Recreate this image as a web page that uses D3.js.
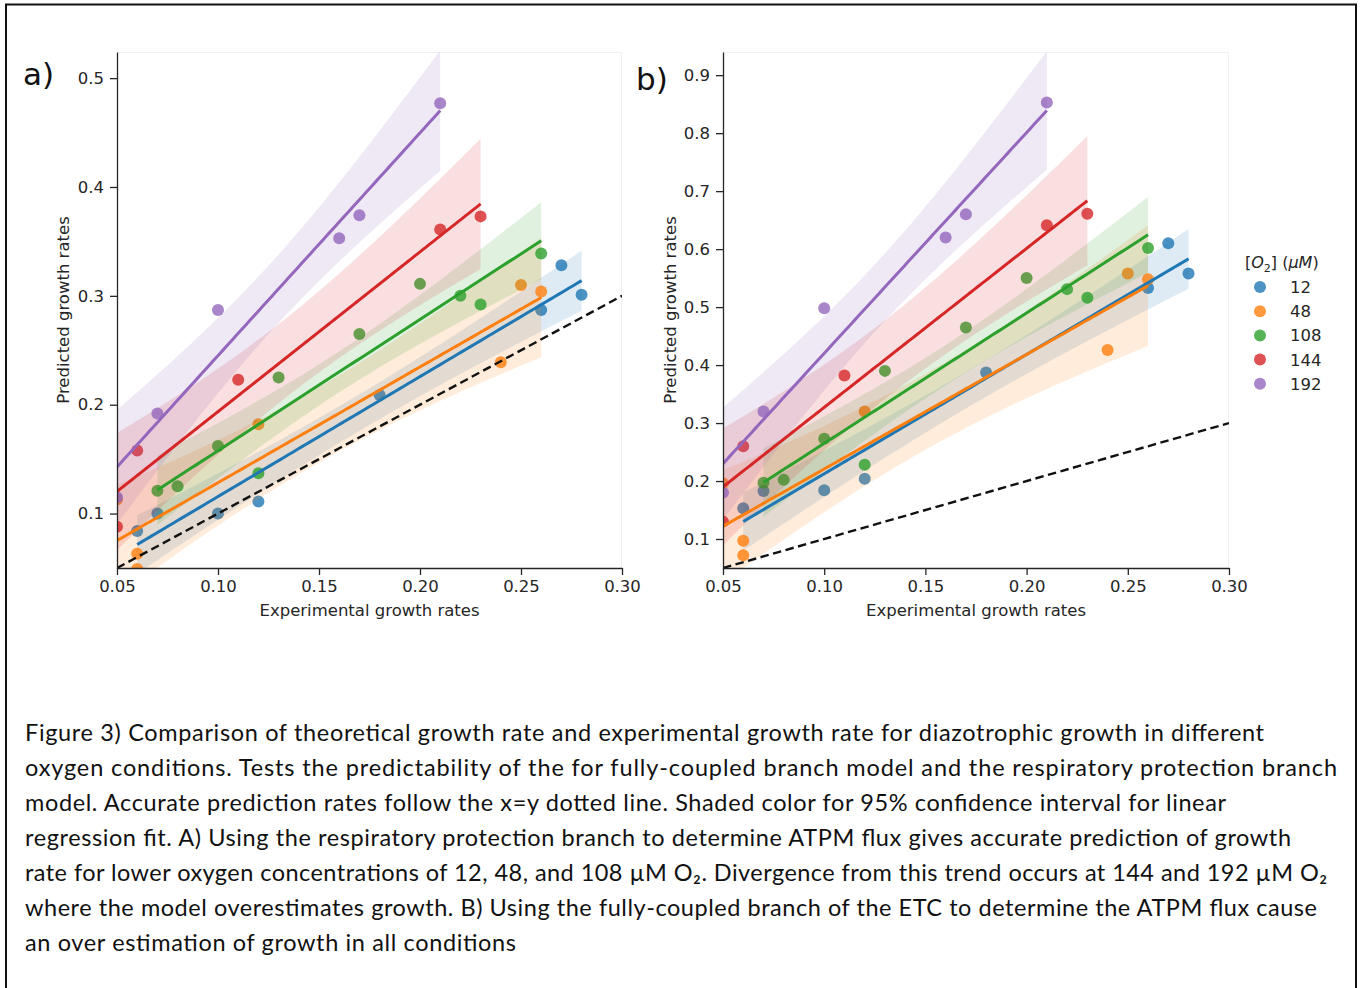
<!DOCTYPE html>
<html>
<head>
<meta charset="utf-8">
<script src="https://cdn.jsdelivr.net/npm/d3@7/dist/d3.min.js"></script>
<style>
  body { margin: 0; background: #fff; }
  svg { display: block; }
  .tick text { font-family: 'DejaVu Sans', sans-serif; font-size: 16.5px; fill: #262626; }
  .axis-label { font-family: 'DejaVu Sans', sans-serif; font-size: 16.5px; fill: #262626; }
  .caption { font-family: Lato, 'Open Sans', sans-serif; font-size: 23.5px; fill: #111; }
</style>
</head>
<body>
<svg id="fig" width="1361" height="988"></svg>
<script>
// DATA
const o2Levels = ['12', '48', '108', '144', '192']
const colors = ['#1f77b4', '#ff7f0e', '#2ca02c', '#d62728', '#9467bd']
const xTicks = [0.05, 0.10, 0.15, 0.20, 0.25, 0.30]
const yTicksA = [0.1, 0.2, 0.3, 0.4, 0.5]
const yTicksB = [0.1, 0.2, 0.3, 0.4, 0.5, 0.6, 0.7, 0.8, 0.9]
const identityLine = [0.05, 0.30]

const exp12 = [0.06, 0.07, 0.10, 0.12, 0.18, 0.26, 0.27, 0.28]
const predA12 = [0.084, 0.100, 0.100, 0.111, 0.209, 0.287, 0.328, 0.301]
const predB12 = [0.153, 0.183, 0.184, 0.204, 0.387, 0.533, 0.610, 0.558]

const exp48 = [0.05, 0.06, 0.06, 0.12, 0.24, 0.25, 0.26]
const predA48 = [0.113, 0.063, 0.049, 0.182, 0.239, 0.310, 0.304]
const predB48 = [0.196, 0.097, 0.072, 0.320, 0.426, 0.558, 0.548]

const exp108 = [0.07, 0.08, 0.10, 0.12, 0.13, 0.17, 0.20, 0.22, 0.23, 0.26]
const predA108 = [0.121, 0.125, 0.162, 0.137, 0.225, 0.265, 0.311, 0.300, 0.292, 0.339]
const predB108 = [0.197, 0.202, 0.273, 0.228, 0.390, 0.465, 0.550, 0.531, 0.516, 0.602]

const exp144 = [0.05, 0.06, 0.11, 0.21, 0.23]
const predA144 = [0.088, 0.158, 0.223, 0.361, 0.373]
const predB144 = [0.130, 0.260, 0.382, 0.641, 0.661]

const exp192 = [0.05, 0.07, 0.10, 0.16, 0.17, 0.21]
const predA192 = [0.115, 0.192, 0.287, 0.353, 0.374, 0.477]
const predB192 = [0.180, 0.320, 0.498, 0.620, 0.660, 0.853]

const captionLines = [
  'Figure 3) Comparison of theoretical growth rate and experimental growth rate for diazotrophic growth in different',
  'oxygen conditions. Tests the predictability of the for fully-coupled branch model and the respiratory protection branch',
  'model. Accurate prediction rates follow the x=y dotted line. Shaded color for 95% confidence interval for linear',
  'regression fit. A) Using the respiratory protection branch to determine ATPM flux gives accurate prediction of growth',
  'rate for lower oxygen concentrations of 12, 48, and 108 \u00b5M O\u2082. Divergence from this trend occurs at 144 and 192 \u00b5M O\u2082',
  'where the model overestimates growth. B) Using the fully-coupled branch of the ETC to determine the ATPM flux cause',
  'an over estimation of growth in all conditions'
]
const captionWidths = [1239, 1312, 1201, 1266, 1302, 1292, 491]

// t quantiles (97.5%) by degrees of freedom, for the 95% band
const t975 = { 3: 3.182, 4: 2.776, 5: 2.571, 6: 2.447, 7: 2.365, 8: 2.306 }

const exps = [exp12, exp48, exp108, exp144, exp192]
const panelA = [predA12, predA48, predA108, predA144, predA192]
const panelB = [predB12, predB48, predB108, predB144, predB192]

const svg = d3.select('#fig')

// frame round the figure
svg.append('rect')
  .attr('x', 6).attr('y', 4.5)
  .attr('width', 1350).attr('height', 1000)
  .attr('fill', 'none')
  .attr('stroke', '#111')
  .attr('stroke-width', 2)

function regression(xs, ys) {
  const n = xs.length
  const xbar = d3.mean(xs)
  const ybar = d3.mean(ys)
  const sxx = d3.sum(xs, x => (x - xbar) ** 2)
  const sxy = d3.sum(xs, (x, i) => (x - xbar) * (ys[i] - ybar))
  const slope = sxy / sxx
  const icept = ybar - slope * xbar
  const sse = d3.sum(xs, (x, i) => (ys[i] - icept - slope * x) ** 2)
  const s = Math.sqrt(sse / (n - 2))
  const t = t975[n - 2] || 2.0
  const [lo, hi] = d3.extent(xs)
  return d3.range(0, 101).map(k => {
    const x = lo + (hi - lo) * k / 100
    const y = icept + slope * x
    const se = s * Math.sqrt(1 / n + (x - xbar) ** 2 / sxx)
    return { x, y, y0: y - t * se, y1: y + t * se }
  })
}

function drawPanel(cfg) {
  const { left, top, width, height, yDomain, yTicks, preds, id, tag, tagX, tagY } = cfg
  const g = svg.append('g').attr('transform', `translate(${left} ${top})`)

  const x = d3.scaleLinear().domain([0.05, 0.30]).range([0, width])
  const y = d3.scaleLinear().domain(yDomain).range([height, 0])

  svg.append('defs').append('clipPath').attr('id', `clip-${id}`)
    .append('rect').attr('width', width).attr('height', height)

  // faint top / right edges
  g.append('path')
    .attr('d', `M0 0.5H${width - 0.5}V${height}`)
    .attr('fill', 'none')
    .attr('stroke', '#f1f1f1')

  const plot = g.append('g').attr('clip-path', `url(#clip-${id})`)

  const fits = preds.map((ys, i) => regression(exps[i], ys))

  // SCATTER + BANDS
  preds.forEach((ys, i) => {
    plot.append('g')
      .selectAll('circle')
      .data(ys.map((v, j) => [exps[i][j], v]))
      .enter().append('circle')
      .attr('cx', d => x(d[0]))
      .attr('cy', d => y(d[1]))
      .attr('r', 6)
      .attr('fill', colors[i])
      .attr('fill-opacity', 0.8)

    plot.append('path')
      .datum(fits[i])
      .attr('fill', colors[i])
      .attr('fill-opacity', 0.15)
      .attr('d', d3.area()
        .x(d => x(d.x))
        .y0(d => y(d.y0))
        .y1(d => y(d.y1)))
  })

  // FIT LINES
  fits.forEach((f, i) => {
    plot.append('path')
      .datum(f)
      .attr('fill', 'none')
      .attr('stroke', colors[i])
      .attr('stroke-width', 3)
      .attr('d', d3.line().x(d => x(d.x)).y(d => y(d.y)))
  })

  // x = y
  plot.append('path')
    .datum(identityLine)
    .attr('fill', 'none')
    .attr('stroke', '#111')
    .attr('stroke-width', 2.4)
    .attr('stroke-dasharray', '8.5 4.5')
    .attr('d', d3.line().x(d => x(d)).y(d => y(d)))

  // AXES
  const xAxis = g.append('g')
    .attr('transform', `translate(0 ${height})`)
    .call(d3.axisBottom(x).tickValues(xTicks).tickFormat(d3.format('.2f'))
      .tickSizeInner(7).tickSizeOuter(0).tickPadding(5))
  const yAxis = g.append('g')
    .call(d3.axisLeft(y).tickValues(yTicks).tickFormat(d3.format('.1f'))
      .tickSizeInner(7).tickSizeOuter(0).tickPadding(6))
  ;[xAxis, yAxis].forEach(a => {
    a.selectAll('.domain').attr('stroke', '#262626').attr('stroke-width', 1.3)
    a.selectAll('.tick line').attr('stroke', '#262626').attr('stroke-width', 1.3)
    a.attr('font-family', null).attr('font-size', null)
  })

  g.append('text')
    .attr('class', 'axis-label')
    .attr('x', width / 2)
    .attr('y', height + 48)
    .attr('text-anchor', 'middle')
    .text('Experimental growth rates')

  g.append('text')
    .attr('class', 'axis-label')
    .attr('transform', `translate(${-cfg.yLabelOffset} ${height / 2}) rotate(-90)`)
    .attr('text-anchor', 'middle')
    .text('Predicted growth rates')

  svg.append('text')
    .attr('x', tagX).attr('y', tagY)
    .attr('font-family', 'DejaVu Sans, sans-serif')
    .attr('font-size', 31)
    .attr('fill', '#111')
    .text(tag)
}

drawPanel({
  id: 'a', tag: 'a)', tagX: 23, tagY: 85,
  left: 117, top: 52, width: 505, height: 516,
  yDomain: [0.05, 0.524], yTicks: yTicksA, preds: panelA, yLabelOffset: 48
})

drawPanel({
  id: 'b', tag: 'b)', tagX: 636, tagY: 90,
  left: 723, top: 52, width: 506, height: 516,
  yDomain: [0.05, 0.94], yTicks: yTicksB, preds: panelB, yLabelOffset: 47
})

// LEGEND
const legend = svg.append('g').attr('transform', 'translate(1245 0)')
const title = legend.append('text')
  .attr('x', 0).attr('y', 268)
  .attr('font-family', 'DejaVu Sans, sans-serif')
  .attr('font-size', 16)
  .attr('fill', '#262626')
title.append('tspan').text('[')
title.append('tspan').attr('font-style', 'italic').text('O')
title.append('tspan').attr('font-size', 11).attr('dy', 4).text('2')
title.append('tspan').attr('dy', -4).text('] (')
title.append('tspan').attr('font-style', 'italic').text('\u03bcM')
title.append('tspan').text(')')

const items = legend.selectAll('.item')
  .data(o2Levels)
  .enter().append('g')
  .attr('class', 'item')
  .attr('transform', (d, i) => `translate(0 ${287 + i * 24.2})`)
items.append('circle')
  .attr('cx', 15).attr('r', 6)
  .attr('fill', (d, i) => colors[i])
  .attr('fill-opacity', 0.8)
items.append('text')
  .attr('x', 45).attr('y', 6)
  .attr('font-family', 'DejaVu Sans, sans-serif')
  .attr('font-size', 16.5)
  .attr('fill', '#262626')
  .text(d => d)

// CAPTION
svg.append('g')
  .selectAll('text')
  .data(captionLines)
  .enter().append('text')
  .attr('class', 'caption')
  .attr('x', 25)
  .attr('y', (d, i) => 741 + i * 35)
  .attr('textLength', (d, i) => captionWidths[i])
  .attr('lengthAdjust', 'spacing')
  .text(d => d)
</script>
</body>
</html>
